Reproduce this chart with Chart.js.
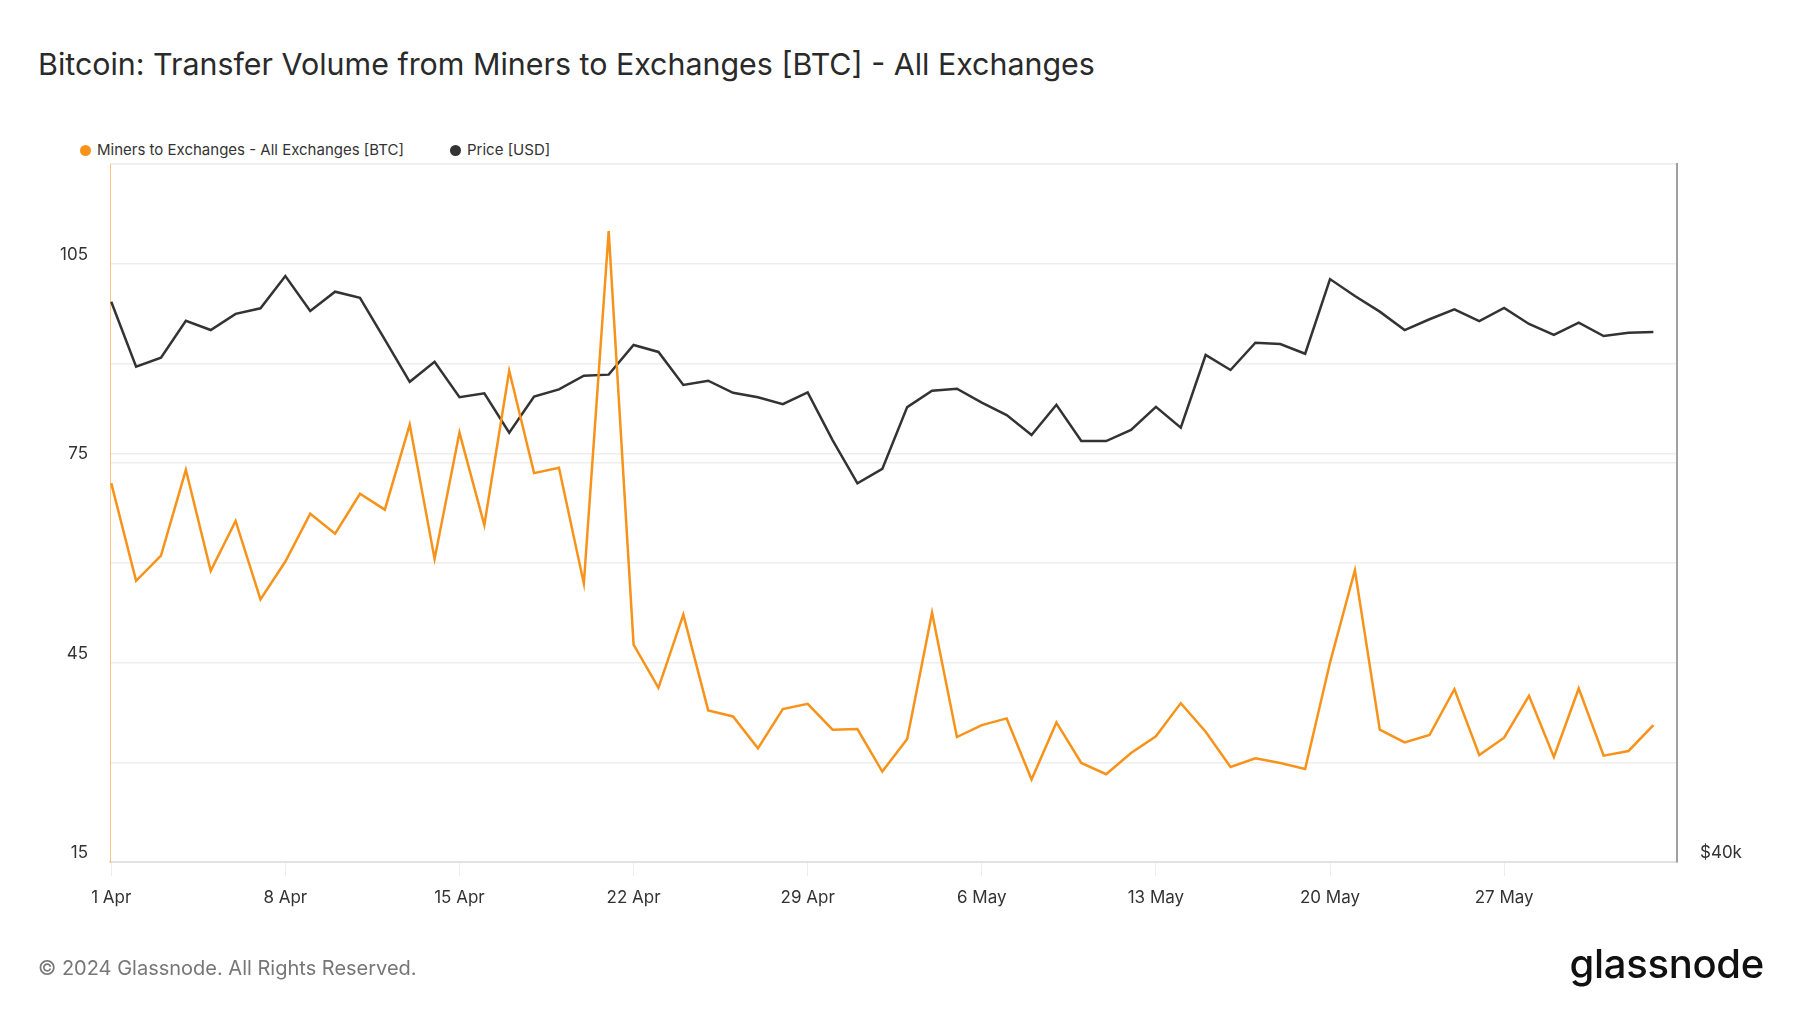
<!DOCTYPE html>
<html>
<head>
<meta charset="utf-8">
<title>Bitcoin: Transfer Volume from Miners to Exchanges</title>
<script src="https://cdn.jsdelivr.net/npm/chart.js@4.4.1/dist/chart.umd.min.js"></script>
<style>
  body { margin: 0; background: #fff; font-family: Inter, "Noto Sans", sans-serif; }
  #wrap { position: relative; width: 1800px; height: 1013px; overflow: hidden; }
  #chart { position: absolute; left: 0; top: 0; }
  .title { position: absolute; left: 38px; top: 45px; font-size: 30.4px; font-weight: 400; color: #2a2a2a; line-height: 38px; white-space: nowrap; }
  .legend-item { position: absolute; top: 140px; display: flex; align-items: center; font-size: 15px; color: #333; line-height: 20px; white-space: nowrap; }
  .dot { width: 11px; height: 11px; border-radius: 50%; margin-right: 6px; }
  .footer { position: absolute; left: 38px; top: 954px; font-size: 20px; color: #777; line-height: 28px; }
  .logo { position: absolute; right: 36px; top: 940px; font-size: 40px; font-weight: 500; color: #111; letter-spacing: -0.3px; line-height: 48px; }
</style>
</head>
<body>
<div id="wrap">
  <div class="title">Bitcoin: Transfer Volume from Miners to Exchanges [BTC] - All Exchanges</div>
  <div class="legend-item" style="left:80px;"><span class="dot" style="background:#f7931a;"></span>Miners to Exchanges - All Exchanges [BTC]</div>
  <div class="legend-item" style="left:450px;"><span class="dot" style="background:#333;"></span>Price [USD]</div>
  <canvas id="chart" width="1800" height="1013"></canvas>
  <div class="footer">© 2024 Glassnode. All Rights Reserved.</div>
  <div class="logo">glassnode</div>
</div>
<script>
// daily points, 1 Apr - 2 Jun 2024
const days = [
    '1 Apr', '2 Apr', '3 Apr', '4 Apr', '5 Apr', '6 Apr', '7 Apr', '8 Apr', '9 Apr', '10 Apr',
    '11 Apr', '12 Apr', '13 Apr', '14 Apr', '15 Apr', '16 Apr', '17 Apr', '18 Apr', '19 Apr', '20 Apr',
    '21 Apr', '22 Apr', '23 Apr', '24 Apr', '25 Apr', '26 Apr', '27 Apr', '28 Apr', '29 Apr', '30 Apr',
    '1 May', '2 May', '3 May', '4 May', '5 May', '6 May', '7 May', '8 May', '9 May', '10 May',
    '11 May', '12 May', '13 May', '14 May', '15 May', '16 May', '17 May', '18 May', '19 May', '20 May',
    '21 May', '22 May', '23 May', '24 May', '25 May', '26 May', '27 May', '28 May', '29 May', '30 May',
    '31 May', '1 Jun', '2 Jun'
];

const minersToExchanges = [
    72.0, 57.3, 61.1, 74.0, 58.8, 66.3, 54.5, 60.2, 67.4, 64.4,
    70.4, 68.0, 80.8, 60.6, 79.6, 65.7, 88.9, 73.5, 74.3, 56.9,
    109.9, 47.7, 41.2, 52.2, 37.8, 36.9, 32.1, 38.0, 38.8, 34.9,
    35.0, 28.6, 33.5, 52.5, 33.8, 35.6, 36.6, 27.4, 36.0, 29.9,
    28.2, 31.4, 33.9, 38.9, 34.6, 29.3, 30.6, 29.9, 29.0, 45.0,
    58.9, 34.9, 33.0, 34.1, 41.0, 31.1, 33.7, 40.0, 30.8, 41.1,
    31.0, 31.7, 35.6
];

const priceUsd = [
    69770, 65410, 66000, 68470, 67840, 68940, 69320, 71580, 69140, 70470,
    70050, 67190, 64440, 65740, 63460, 63710, 61260, 63500, 63960, 64830,
    64900, 66840, 66380, 64240, 64510, 63740, 63460, 63020, 63770, 60820,
    58260, 59100, 62840, 63870, 64000, 63120, 62350, 61120, 62990, 60760,
    60760, 61430, 62860, 61570, 66180, 65200, 66990, 66900, 66260, 71360,
    70170, 69090, 67840, 68570, 69250, 68450, 69340, 68250, 67510, 68340,
    67440, 67660, 67710
];

const xTicks = ['1 Apr', '8 Apr', '15 Apr', '22 Apr', '29 Apr', '6 May', '13 May', '20 May', '27 May'];
const btcTickLabels = [15, 45, 75, 105];
const priceTicks = [40000, 60000, 80000];
const priceTickLabels = { 40000: '$40k' };

const tickFont = { family: 'Inter', size: 17 };

new Chart(document.getElementById('chart'), {
    type: 'line',
    data: {
        datasets: [
            {
                label: 'Miners to Exchanges - All Exchanges [BTC]',
                data: minersToExchanges.map((v, i) => ({ x: i, y: v })),
                borderColor: '#f7931a',
                borderWidth: 2.5,
                pointRadius: 0,
                yAxisID: 'y'
            },
            {
                label: 'Price [USD]',
                data: priceUsd.map((v, i) => ({ x: i, y: v })),
                borderColor: '#333333',
                borderWidth: 2.5,
                pointRadius: 0,
                yAxisID: 'price'
            }
        ]
    },
    options: {
        responsive: false,
        animation: false,
        devicePixelRatio: 1,
        layout: { padding: { top: 164, left: 0, right: 0, bottom: 0 } },
        plugins: {
            legend: { display: false },
            tooltip: { enabled: false }
        },
        scales: {
            x: {
                type: 'linear',
                position: 'bottom',
                min: -0.05,
                max: 62.95,
                afterBuildTicks: axis => { axis.ticks = xTicks.map(l => ({ value: days.indexOf(l) })); },
                afterFit: scale => { scale.height = 151; },
                ticks: {
                    callback: v => days[v],
                    autoSkip: false,
                    maxRotation: 0,
                    padding: 12,
                    color: '#333',
                    font: tickFont
                },
                grid: { drawOnChartArea: false, drawTicks: true, tickLength: 14, color: '#eeeeee' },
                border: { color: '#e2e2e2', width: 2 }
            },
            y: {
                position: 'left',
                min: 15,
                max: 120,
                afterFit: scale => { scale.width = 110; },
                ticks: {
                    stepSize: 15,
                    callback: v => btcTickLabels.includes(v) ? String(v) : '',
                    padding: 22,
                    labelOffset: -9,
                    color: '#333',
                    font: tickFont
                },
                grid: { color: '#eeeeee', lineWidth: 1.5, drawTicks: false },
                border: { color: 'rgba(247,147,26,0.55)', width: 1 }
            },
            price: {
                type: 'logarithmic',
                position: 'right',
                min: 40000,
                max: 80000,
                afterBuildTicks: axis => { axis.ticks = priceTicks.map(v => ({ value: v })); },
                afterFit: scale => { scale.width = 123; },
                ticks: {
                    callback: v => priceTickLabels[v] || '',
                    padding: 23,
                    labelOffset: -9,
                    color: '#333',
                    font: tickFont
                },
                grid: { color: '#eeeeee', lineWidth: 1.5, drawTicks: false },
                border: { color: '#a0a0a0', width: 2 }
            }
        }
    }
});
</script>
</body>
</html>
